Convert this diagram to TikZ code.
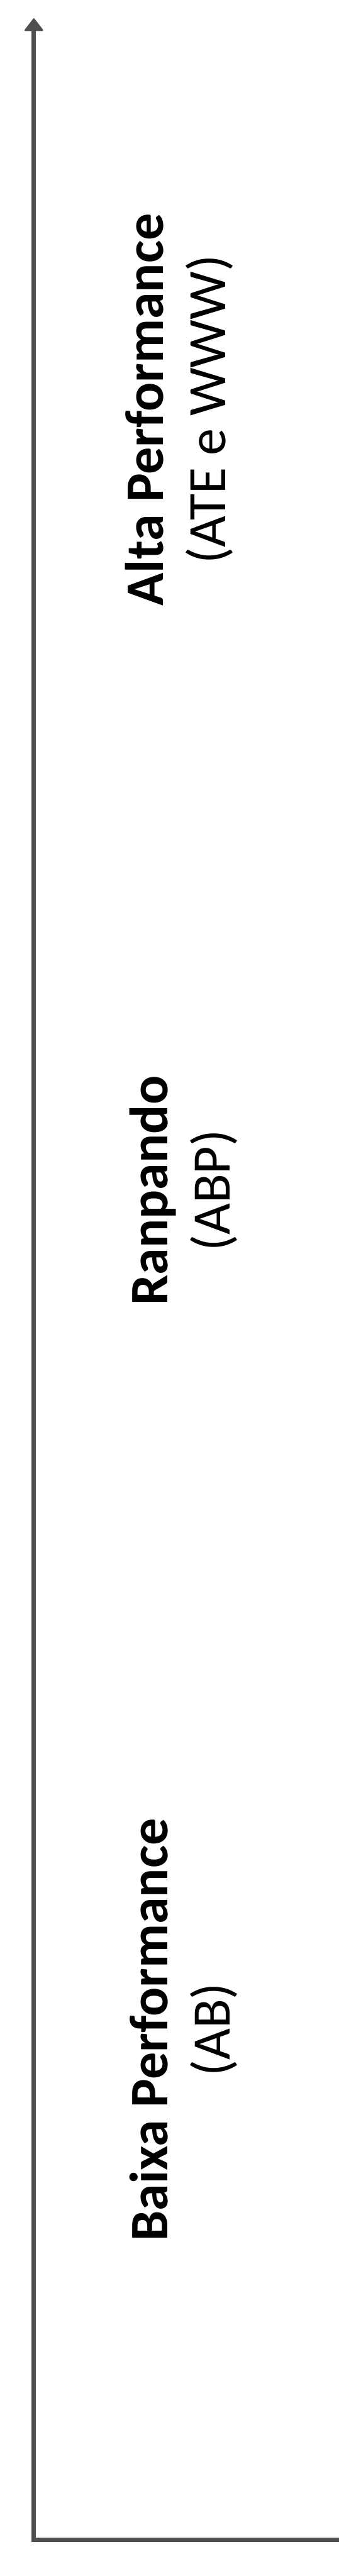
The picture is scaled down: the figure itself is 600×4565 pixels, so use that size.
\documentclass[tikz,border=0pt]{standalone}
\usepackage{fontspec}
\setmainfont{Carlito}
\definecolor{axisgray}{HTML}{4F4F4F}
\begin{document}
\begin{tikzpicture}[x=1pt,y=-1pt,
  axis/.style={draw=axisgray, line width=8pt},
  arrowhead/.style={draw=axisgray, fill=axisgray, line width=3pt, line join=round},
  lbltitle/.style={rotate=90, anchor=base, inner sep=0pt, font=\fontsize{96}{117}\selectfont\bfseries},
  lblsub/.style={rotate=90, anchor=base, inner sep=0pt, font=\fontsize{96}{117}\selectfont}]
\useasboundingbox (0,0) rectangle (600,4565);
\coordinate (corner) at (60,4505);
\coordinate (origin) at (60,4501);
\coordinate (headbase) at (60,53);
\coordinate (top) at (60,34);
\coordinate (xend) at (604,4501);
\draw[axis] (corner) -- (headbase);
\path[arrowhead] (top) -- ++(-15,19.5) -- ++(30,0) -- cycle;
\draw[axis] (origin) -- (xend);
\node[lbltitle] (alta) at (289,726) {Alta Performance};
\node[lblsub] (altasub) at (399,726) {(ATE e WWW)};
\node[lbltitle] (ramp) at (297,2110) {Ranpando};
\node[lblsub] (rampsub) at (407,2110) {(ABP)};
\node[lbltitle] (baixa) at (297,3597) {Baixa Performance};
\node[lblsub] (baixasub) at (407,3597) {(AB)};
\end{tikzpicture}
\end{document}
